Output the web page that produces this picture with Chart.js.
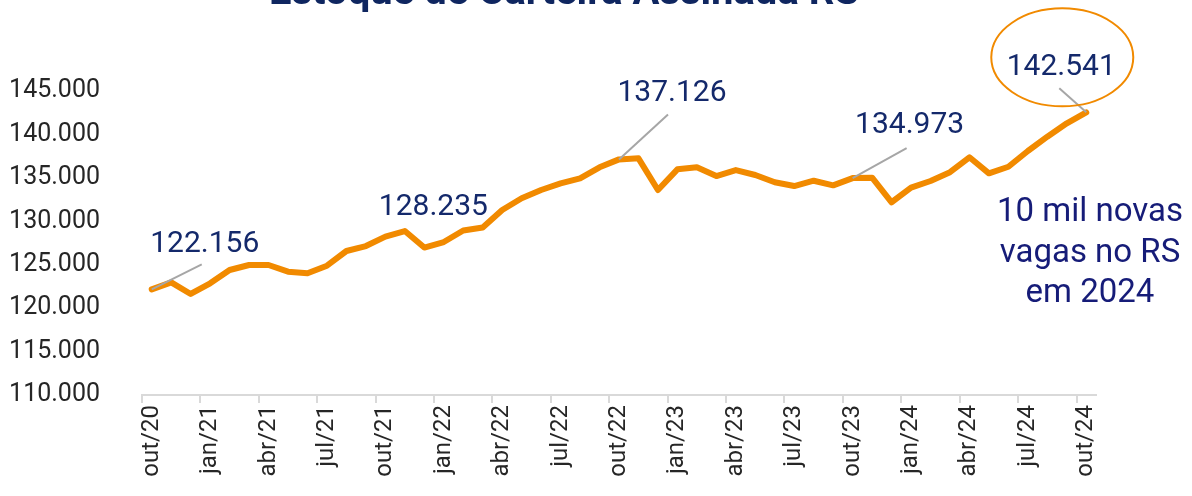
<!DOCTYPE html>
<html>
<head>
<meta charset="utf-8">
<script src="https://cdn.jsdelivr.net/npm/chart.js@4"></script>
<style>
  html, body { margin: 0; padding: 0; background: #fff; }
  #wrap { width: 1192px; height: 496px; }
</style>
</head>
<body>
<div id="wrap"><canvas id="estoque"></canvas></div>
<script>
const months = [
  'out/20','nov/20','dez/20','jan/21','fev/21','mar/21','abr/21','mai/21','jun/21','jul/21','ago/21','set/21',
  'out/21','nov/21','dez/21','jan/22','fev/22','mar/22','abr/22','mai/22','jun/22','jul/22','ago/22','set/22',
  'out/22','nov/22','dez/22','jan/23','fev/23','mar/23','abr/23','mai/23','jun/23','jul/23','ago/23','set/23',
  'out/23','nov/23','dez/23','jan/24','fev/24','mar/24','abr/24','mai/24','jun/24','jul/24','ago/24','set/24',
  'out/24'
];
const estoque = [
  122156, 122970, 121630, 122860, 124390, 124970, 124970, 124200, 124010, 124890, 126580, 127150,
  128235, 128880, 126980, 127610, 128940, 129280, 131300, 132650, 133600, 134370, 134950, 136210,
  137126, 137250, 133600, 135980, 136210, 135210, 135900, 135330, 134490, 134060, 134670, 134140,
  134973, 135020, 132190, 133870, 134640, 135650, 137370, 135520, 136280, 138090, 139740, 141280,
  142541
];
const yTicks = [110000, 115000, 120000, 125000, 130000, 135000, 140000, 145000];
const destaques = [0, 12, 24, 36, 48]; // indices with value labels (October of each year)
const titulo = 'Estoque de Carteira Assinada RS';
const nota = ['10 mil novas', 'vagas no RS', 'em 2024'];

const NAVY = '#14296b';
const ORANGE = '#f18a00';

function fmt(v) {
  return String(v).replace(/\B(?=(\d{3})+(?!\d))/g, '.');
}

// label placement relative to each highlighted point: text center/baseline, leader end
const labelPos = {
  0:  {dx: 53,  dy: -37, lx: 50,  ly: -25},
  12: {dx: 48,  dy: -22},
  24: {dx: 53,  dy: -58, lx: 49,  ly: -45},
  36: {dx: 57,  dy: -45, lx: 54,  ly: -30},
  48: {dx: -25, dy: -37, lx: -27, ly: -24, ring: true}
};

const annotations = {
  id: 'annotations',
  afterDatasetsDraw(chart) {
    const ctx = chart.ctx;
    const meta = chart.getDatasetMeta(0);
    ctx.save();
    destaques.forEach(i => {
      const pt = meta.data[i];
      const p = labelPos[i];
      if (p.lx !== undefined) {
        ctx.strokeStyle = '#a6a6a6';
        ctx.lineWidth = 2;
        ctx.beginPath();
        ctx.moveTo(pt.x, pt.y);
        ctx.lineTo(pt.x + p.lx, pt.y + p.ly);
        ctx.stroke();
      }
      ctx.fillStyle = NAVY;
      ctx.font = '30px Roboto';
      ctx.textAlign = 'center';
      ctx.textBaseline = 'alphabetic';
      ctx.fillText(fmt(estoque[i]), pt.x + p.dx, pt.y + p.dy);
      if (p.ring) {
        ctx.strokeStyle = ORANGE;
        ctx.lineWidth = 2;
        ctx.beginPath();
        ctx.ellipse(pt.x - 24, pt.y - 55, 71, 49, 0, 0, Math.PI * 2);
        ctx.stroke();
      }
    });

    // title, partly cut at the top edge
    ctx.fillStyle = '#0f2660';
    ctx.font = 'bold 40px Roboto';
    ctx.textAlign = 'center';
    ctx.fillText(titulo, 564, 4);

    // side note
    ctx.fillStyle = '#161c78';
    ctx.font = '33px Roboto';
    nota.forEach((t, k) => ctx.fillText(t, 1090, 221 + k * 40.5));
    ctx.restore();
  }
};

new Chart(document.getElementById('estoque'), {
  type: 'line',
  data: {
    labels: months,
    datasets: [{
      data: estoque,
      borderColor: ORANGE,
      borderWidth: 6,
      borderJoinStyle: 'round',
      borderCapStyle: 'round',
      pointRadius: 0,
      tension: 0,
      fill: false
    }]
  },
  options: {
    responsive: true,
    maintainAspectRatio: false,
    animation: false,
    layout: { padding: { top: 91, right: 96, left: 0, bottom: 0 } },
    plugins: {
      legend: { display: false },
      tooltip: { enabled: false }
    },
    scales: {
      x: {
        offset: true,
        afterFit(scale) { scale.height = 101; },
        border: { color: '#d9d9d9', width: 2 },
        grid: {
          offset: true,
          drawOnChartArea: false,
          drawTicks: true,
          tickLength: 8,
          lineWidth: 2,
          color: ctx => (ctx.index % 3 === 0 ? '#d9d9d9' : 'rgba(0,0,0,0)')
        },
        ticks: {
          autoSkip: false,
          minRotation: 90,
          maxRotation: 90,
          padding: 2,
          color: '#262626',
          font: { family: 'Roboto', size: 24 },
          callback: (v, i) => (i % 3 === 0 ? months[i] : '')
        }
      },
      y: {
        min: yTicks[0],
        max: yTicks[yTicks.length - 1],
        afterFit(scale) { scale.width = 142; },
        afterBuildTicks(scale) { scale.ticks = yTicks.map(v => ({ value: v })); },
        border: { display: false },
        grid: { display: false },
        ticks: {
          padding: 34,
          color: '#262626',
          font: { family: 'Roboto', size: 25 },
          callback: v => fmt(v)
        }
      }
    }
  },
  plugins: [annotations]
});
</script>
</body>
</html>
